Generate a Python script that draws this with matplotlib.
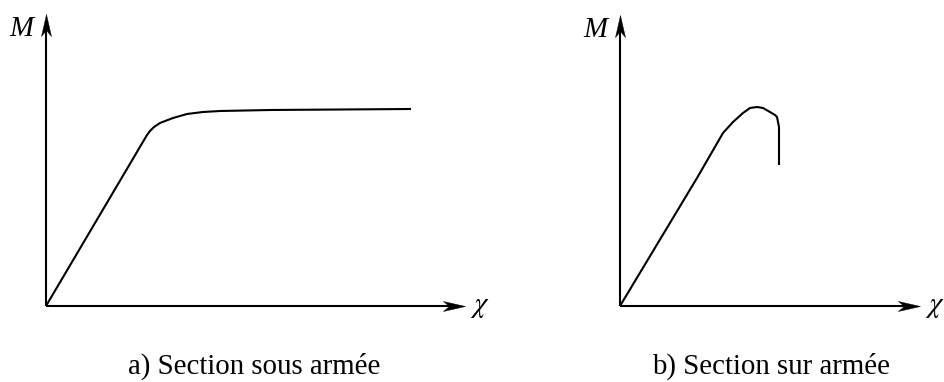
import numpy as np
import matplotlib
matplotlib.use('Agg')
import matplotlib.pyplot as plt
from matplotlib.path import Path

plt.rcParams['mathtext.fontset'] = 'stix'

# Moment-curvature curves (arbitrary units, 1 unit ~ 10 px)
chi_sous = [0, 10.1, 10.4, 10.8, 11.4, 12.7, 14.1, 15.7, 17.4, 22.4, 36.5]
m_sous = [0, 17.1, 17.5, 17.9, 18.3, 18.8, 19.2, 19.4, 19.5, 19.6, 19.7]

chi_sur = [0, 7.7, 10.3, 11.3, 12.3, 13.0, 13.7, 14.3, 15.0, 15.5, 15.7, 15.8, 15.9, 15.9, 15.9]
m_sur = [0, 12.8, 17.3, 18.4, 19.3, 19.8, 19.9, 19.8, 19.4, 19.1, 18.9, 18.4, 17.9, 16.5, 14.1]

# axis extents (chi, M)
axis_len_a = (41.9, 29.2)
axis_len_b = (30.0, 29.1)

captions = ['a) Section sous armée', 'b) Section sur armée']
caption_x = [20.8, 15.1]

W, H = 944, 382
fig = plt.figure(figsize=(W / 100, H / 100), dpi=100)

# stealth-style arrow heads, tip at the marker origin
head_up = Path([(0, 0), (-5, -22), (0, -16), (5, -22), (0, 0)],
               [Path.MOVETO, Path.LINETO, Path.LINETO, Path.LINETO, Path.CLOSEPOLY])
head_right = Path([(0, 0), (-22, 5), (-16, 0), (-22, -5), (0, 0)],
                  [Path.MOVETO, Path.LINETO, Path.LINETO, Path.LINETO, Path.CLOSEPOLY])
head_ms = 31.7

serif = 'Liberation Serif'
fs = 20.8


def draw_panel(ax, chi, m, axis_len, caption, cap_x):
    xmax, ymax = axis_len
    lw = 1.5
    # axes with arrows
    ax.plot([0, 0], [0, ymax - 1.2], color='black', lw=lw, solid_capstyle='butt')
    ax.plot([0, xmax - 1.2], [0, 0], color='black', lw=lw, solid_capstyle='butt')
    ax.plot([0], [ymax], marker=head_up, ms=head_ms, color='black', mew=0.3)
    ax.plot([xmax], [0], marker=head_right, ms=head_ms, color='black', mew=0.3)

    # curve
    ax.plot(chi, m, color='black', lw=lw, solid_joinstyle='round', solid_capstyle='butt')

    ax.text(-2.5, ymax - 2.2, 'M', family=serif, style='italic', fontsize=fs,
            ha='center', va='baseline')
    ax.text(xmax + 1.5, -0.6, r'$\chi$', fontsize=fs,
            ha='center', va='baseline')
    ax.text(cap_x, -6.8, caption, family=serif, fontsize=fs,
            ha='center', va='baseline')


# left panel: pixels 0..472, origin at (46, 306)
ax1 = fig.add_axes([0, 0, 0.5, 1])
ax1.set_xlim(-4.6, 42.6)
ax1.set_ylim(-7.6, 30.6)
ax1.axis('off')
draw_panel(ax1, chi_sous, m_sous, axis_len_a, captions[0], caption_x[0])

# right panel: pixels 472..944, origin at (620, 306)
ax2 = fig.add_axes([0.5, 0, 0.5, 1])
ax2.set_xlim(-14.8, 32.4)
ax2.set_ylim(-7.6, 30.6)
ax2.axis('off')
draw_panel(ax2, chi_sur, m_sur, axis_len_b, captions[1], caption_x[1])

fig.savefig('out.png', dpi=100, facecolor='white')
